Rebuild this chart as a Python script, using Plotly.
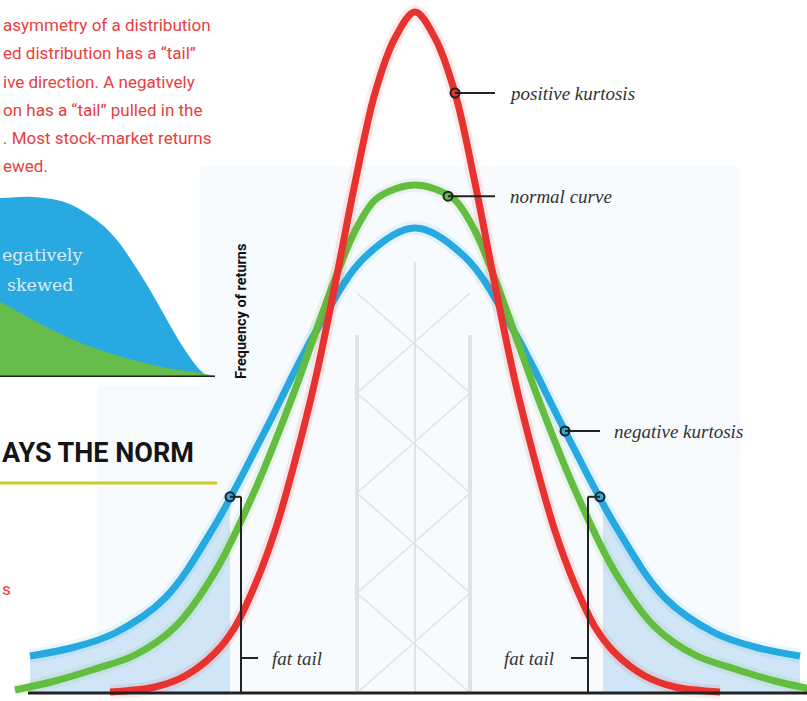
import numpy as np
import plotly.graph_objects as go

# ---- main chart: return (x, in scale steps) vs frequency of returns (y)
pos_ret = [-3.05, -2.6, -2.3, -2.0, -1.8, -1.6, -1.4, -1.2, -1.0, -0.8, -0.6, -0.4, -0.2, 0.0,
           0.2, 0.4, 0.6, 0.8, 1.0, 1.2, 1.4, 1.6, 1.8, 2.0, 2.3, 2.6, 3.05]
pos_freq = [0.01, 0.06, 0.17, 0.40, 0.66, 1.08, 1.62, 2.32, 3.12, 4.08, 5.10, 6.00, 6.55, 6.81,
            6.55, 6.00, 5.10, 4.08, 3.12, 2.32, 1.62, 1.08, 0.66, 0.40, 0.17, 0.06, 0.01]

norm_ret = [-4.0, -3.6, -3.2, -2.8, -2.4, -2.0, -1.6, -1.2, -1.0, -0.8, -0.6, -0.4, -0.2, 0.0,
            0.2, 0.4, 0.6, 0.8, 1.0, 1.2, 1.6, 2.0, 2.4, 2.8, 3.2, 3.6, 4.0]
norm_freq = [0.03, 0.12, 0.24, 0.38, 0.66, 1.21, 2.03, 3.03, 3.59, 4.14, 4.62, 4.93, 5.04, 5.08,
             5.04, 4.93, 4.62, 4.14, 3.59, 3.03, 2.03, 1.21, 0.66, 0.38, 0.24, 0.12, 0.03]

neg_ret = [-3.85, -3.4, -3.0, -2.5, -2.0, -1.5, -1.0, -0.5, 0.0, 0.5, 1.0, 1.5, 2.0, 2.5, 3.0, 3.4, 3.85]
neg_freq = [0.37, 0.46, 0.60, 0.95, 1.68, 2.62, 3.60, 4.36, 4.65, 4.36, 3.60, 2.62, 1.68, 0.95, 0.60, 0.46, 0.37]

# where the callouts touch the curves
pos_mark_ret = 0.40
norm_mark_ret = 0.33
neg_mark_ret = 1.50
tail_mark_ret = [-1.85, 1.85]
tail_ranges = [(-3.85, -1.85), (1.88, 3.85)]

# ---- inset: skewed distribution sketch
skew_neg_x = [-0.93, 0.0, 1.53, 3.12, 4.65, 5.44, 6.19, 6.98, 7.77, 8.51, 9.30, 9.63]
skew_neg_y = [9.05, 8.95, 9.0, 8.7, 7.7, 6.85, 5.7, 4.35, 2.85, 1.5, 0.35, 0.05]
skew_base_x = [-0.93, 0.0, 1.53, 3.12, 4.65, 6.19, 7.77, 9.30, 10.0]
skew_base_y = [4.1, 3.75, 2.85, 2.0, 1.35, 0.85, 0.45, 0.2, 0.05]

paragraph = [
    "asymmetry of a distribution",
    "ed distribution has a \u201ctail\u201d",
    "ive direction. A negatively",
    "on has a \u201ctail\u201d pulled in the",
    ". Most stock-market returns",
    "ewed.",
]

RED = "#e8322f"
GREEN = "#62bd41"
BLUE = "#26a8e0"
TAIL_FILL = "#d0e6f6"
SCAFFOLD = "#e2e2e2"
INK = "#222222"
NARROW = "Roboto, Liberation Sans, sans-serif"
ITALIC = "Liberation Serif, DejaVu Serif, serif"

W, H = 807, 701
fig = go.Figure()

# light tail shading under the negative-kurtosis curve
for lo, hi in tail_ranges:
    tx = np.linspace(lo, hi, 40)
    ty = np.interp(tx, neg_ret, neg_freq)
    fig.add_trace(go.Scatter(x=np.r_[lo, tx, hi], y=np.r_[0, ty, 0], fill="toself",
                             fillcolor=TAIL_FILL, line=dict(width=0), mode="lines",
                             hoverinfo="skip"))

# curves with a soft glow underneath
for xs, ys, col in [(neg_ret, neg_freq, BLUE), (norm_ret, norm_freq, GREEN), (pos_ret, pos_freq, RED)]:
    r, g, b = (int(col[i:i + 2], 16) for i in (1, 3, 5))
    fig.add_trace(go.Scatter(x=xs, y=ys, mode="lines", line=dict(color=f"rgba({r},{g},{b},0.10)", width=14,
                             shape="spline", smoothing=1.0), hoverinfo="skip"))
    fig.add_trace(go.Scatter(x=xs, y=ys, mode="lines", line=dict(color=col, width=7, shape="spline",
                             smoothing=1.0), hoverinfo="skip"))

# inset skew sketch
fig.add_trace(go.Scatter(x=skew_neg_x, y=skew_neg_y, xaxis="x2", yaxis="y2", mode="lines",
                         line=dict(width=0, shape="spline"), fill="tozeroy", fillcolor="#29a9e1",
                         hoverinfo="skip"))
fig.add_trace(go.Scatter(x=skew_base_x, y=skew_base_y, xaxis="x2", yaxis="y2", mode="lines",
                         line=dict(width=0, shape="spline"), fill="tozeroy", fillcolor="#66bd4c",
                         hoverinfo="skip"))

shapes = []
annotations = []

# pale backdrop panel
shapes.append(dict(type="rect", xref="paper", yref="paper", x0=200 / W, x1=740 / W,
                   y0=8 / H, y1=1 - 167 / H, fillcolor="#f8fbfe", line=dict(width=0), layer="below"))
shapes.append(dict(type="rect", xref="paper", yref="paper", x0=97 / W, x1=200 / W,
                   y0=8 / H, y1=1 - 385 / H, fillcolor="#f8fbfe", line=dict(width=0), layer="below"))

# scaffold tower behind the curves
post_x = [-0.58, 0.0, 0.55]
post_top = [3.58, 4.31, 3.58]
for px_, top, wd in zip(post_x, post_top, [4, 2, 4]):
    shapes.append(dict(type="line", xref="x", yref="y", x0=px_, x1=px_, y0=0, y1=top,
                       line=dict(color=SCAFFOLD, width=wd), layer="below"))
for lvl in [4, 3, 2, 1]:
    shapes.append(dict(type="line", xref="x", yref="y", x0=post_x[0], y0=lvl, x1=post_x[2], y1=lvl - 1,
                       line=dict(color=SCAFFOLD, width=1.5), layer="below"))
    shapes.append(dict(type="line", xref="x", yref="y", x0=post_x[2], y0=lvl, x1=post_x[0], y1=lvl - 1,
                       line=dict(color=SCAFFOLD, width=1.5), layer="below"))

# main baseline
shapes.append(dict(type="line", xref="x", yref="y", x0=-3.87, x1=3.95, y0=0, y1=0,
                   line=dict(color=INK, width=3)))
# inset baseline
shapes.append(dict(type="line", xref="x2", yref="y2", x0=-0.5, x1=10, y0=0, y1=0,
                   line=dict(color=INK, width=3)))

# callout leaders
pos_y = float(np.interp(pos_mark_ret, pos_ret, pos_freq))
norm_y = float(np.interp(norm_mark_ret, norm_ret, norm_freq))
neg_y = float(np.interp(neg_mark_ret, neg_ret, neg_freq))
for mx, my, x_end in [(pos_mark_ret, pos_y, 0.80), (norm_mark_ret, norm_y, 0.80), (neg_mark_ret, neg_y, 1.85)]:
    shapes.append(dict(type="line", xref="x", yref="y", x0=mx, x1=x_end, y0=my, y1=my,
                       line=dict(color=INK, width=2)))

tail_y = [float(np.interp(t, neg_ret, neg_freq)) for t in tail_mark_ret]
stems = [-1.74, 1.73]
ticks = [-1.57, 1.56]
for t, ty, sx, tk in zip(tail_mark_ret, tail_y, stems, ticks):
    shapes.append(dict(type="line", xref="x", yref="y", x0=t, x1=sx, y0=ty, y1=ty, line=dict(color=INK, width=2)))
    shapes.append(dict(type="line", xref="x", yref="y", x0=sx, x1=sx, y0=ty, y1=0, line=dict(color=INK, width=2)))
    shapes.append(dict(type="line", xref="x", yref="y", x0=sx, x1=tk, y0=0.35, y1=0.35, line=dict(color=INK, width=2)))

# callout dots
dots = [(pos_mark_ret, pos_y, RED), (norm_mark_ret, norm_y, GREEN), (neg_mark_ret, neg_y, BLUE),
        (tail_mark_ret[0], tail_y[0], BLUE), (tail_mark_ret[1], tail_y[1], BLUE)]
fig.add_trace(go.Scatter(x=[d[0] for d in dots], y=[d[1] for d in dots], mode="markers",
                         marker=dict(size=9, color=[d[2] for d in dots], line=dict(color=INK, width=2)),
                         hoverinfo="skip"))

label_font = dict(family=ITALIC, size=19, color="#333333")
annotations += [
    dict(x=0.92, y=pos_y, xref="x", yref="y", text="<i>positive kurtosis</i>", showarrow=False,
         xanchor="left", yanchor="middle", font=label_font),
    dict(x=0.93, y=norm_y, xref="x", yref="y", text="<i>normal curve</i>", showarrow=False,
         xanchor="left", yanchor="middle", font=label_font),
    dict(x=1.97, y=neg_y, xref="x", yref="y", text="<i>negative kurtosis</i>", showarrow=False,
         xanchor="left", yanchor="middle", font=label_font),
    dict(x=-1.45, y=0.35, xref="x", yref="y", text="<i>fat tail</i>", showarrow=False,
         xanchor="left", yanchor="middle", font=label_font),
    dict(x=1.41, y=0.35, xref="x", yref="y", text="<i>fat tail</i>", showarrow=False,
         xanchor="right", yanchor="middle", font=label_font),
    dict(x=-1.74, y=3.81, xref="x", yref="y", text="<b>Frequency of returns</b>", showarrow=False,
         textangle=-90, xanchor="center", yanchor="middle", font=dict(family=NARROW, size=14.5, color="#111111")),
]

# inset wording
inset_font = dict(family="DejaVu Serif, serif", size=17.5, color="#d8edf9")
annotations += [
    dict(x=0.0, y=6.1, xref="x2", yref="y2", text="egatively", showarrow=False, xanchor="left",
         yanchor="middle", font=inset_font),
    dict(x=0.23, y=4.6, xref="x2", yref="y2", text="skewed", showarrow=False, xanchor="left",
         yanchor="middle", font=inset_font),
]

# paragraph text
line_y = [25, 53, 82, 110, 138, 166]
for txt, py in zip(paragraph, line_y):
    annotations.append(dict(x=1 / W, y=1 - py / H, xref="paper", yref="paper", text=txt, showarrow=False,
                            xanchor="left", yanchor="middle", font=dict(family=NARROW, size=17, color="#e8403f")))
annotations.append(dict(x=0, y=1 - 589 / H, xref="paper", yref="paper", text="s", showarrow=False,
                        xanchor="left", yanchor="middle", font=dict(family=NARROW, size=17, color="#e8403f")))

# heading and rule
annotations.append(dict(x=0, y=1 - 453 / H, xref="paper", yref="paper", text="<b>AYS THE NORM</b>",
                        showarrow=False, xanchor="left", yanchor="middle",
                        font=dict(family=NARROW, size=27, color="#151515")))
shapes.append(dict(type="line", xref="paper", yref="paper", x0=0, x1=217 / W, y0=1 - 483 / H, y1=1 - 483 / H,
                   line=dict(color="#cccc2a", width=3)))

fig.update_layout(
    width=W, height=H, margin=dict(l=0, r=0, t=0, b=0),
    paper_bgcolor="white", plot_bgcolor="rgba(0,0,0,0)", showlegend=False,
    xaxis=dict(domain=[0, 1], range=[-4.15, 3.92], visible=False),
    yaxis=dict(domain=[0, 1], range=[-0.08, 6.93], visible=False),
    xaxis2=dict(domain=[0, 215 / W], range=[0, 10], visible=False, anchor="y2"),
    yaxis2=dict(domain=[1 - 377 / H, 1 - 177 / H], range=[0, 10], visible=False, anchor="x2"),
    shapes=shapes, annotations=annotations,
)

fig.write_html("out.html")
